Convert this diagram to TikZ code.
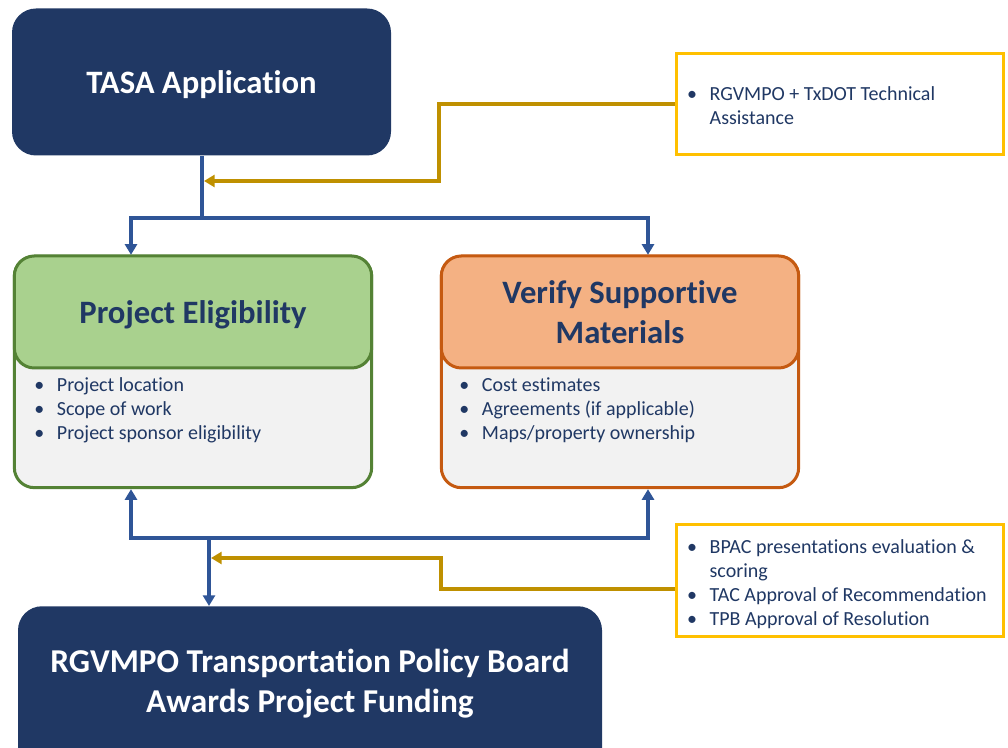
\documentclass[tikz,border=0pt]{standalone}
\usepackage{fontspec}
\setmainfont{Carlito}[Ligatures=NoCommon]
\usetikzlibrary{arrows.meta,calc}
\definecolor{navy}{HTML}{203864}
\definecolor{flowblue}{HTML}{2F5597}
\definecolor{gold}{HTML}{BF9000}
\definecolor{yel}{HTML}{FFC000}
\definecolor{grnfill}{HTML}{A9D18E}
\definecolor{grnline}{HTML}{548235}
\definecolor{orfill}{HTML}{F4B183}
\definecolor{orline}{HTML}{C55A11}
\definecolor{bodyfill}{HTML}{F2F2F2}
\newcommand\bul{\makebox[17pt][l]{\textbullet}}
\newcommand\notelist[1]{\raisebox{-2.6pt}[\height][\depth]{\makebox[229.5pt][l]{\begin{tabular}{@{}l@{}}#1\end{tabular}}}}
\tikzset{
  navybox/.style={fill=navy, draw=none, rounded corners=18pt, text=white,
    font=\fontsize{24.5}{29}\selectfont\bfseries, align=center, inner sep=0pt, text depth=0pt},
  bodybox/.style={fill=bodyfill, line width=2.25pt, rounded corners=15pt,
    minimum width=268pt, minimum height=173.5pt, inner sep=0pt},
  headbox/.style={line width=2.25pt, rounded corners=15pt, minimum width=268pt,
    minimum height=84pt, inner sep=0pt, text=navy, text depth=0pt,
    font=\fontsize{24.5}{30}\selectfont\bfseries, align=center},
  listtext/.style={text=navy, font=\fontsize{15}{18}\selectfont, align=left,
    inner sep=0pt, anchor=north west},
  notebox/.style={draw=yel, fill=white, line width=2.25pt, minimum width=245.5pt,
    inner xsep=0pt, inner ysep=0pt, text=navy,
    font=\fontsize{15}{18}\selectfont},
  flow/.style={draw=flowblue, line width=3pt, -{Triangle[width=9pt,length=8pt]}},
  flowplain/.style={draw=flowblue, line width=3pt},
  help/.style={draw=gold, line width=3pt, -{Triangle[width=9pt,length=8pt]}},
}
\begin{document}
\begin{tikzpicture}[x=0.75pt,y=-0.75pt]
\useasboundingbox (0,0) rectangle (1008,748);
\clip (0,0) rectangle (1008,748);

% top box
\node[navybox, minimum width=284.25pt, minimum height=110.25pt] (tasa) at (201.5,82) {TASA Application};

% project eligibility
\node[bodybox, draw=grnline] (pe) at (193,372) {};
\node[headbox, draw=grnline, fill=grnfill] (peh) at (193,312) {Project Eligibility};
\node[listtext] (pel) at (34,377) {\bul Project location\\\bul Scope of work\\\bul Project sponsor eligibility};

% verify
\node[bodybox, draw=orline] (vs) at (620,372) {};
\node[headbox, draw=orline, fill=orfill] (vsh) at (620,312) {Verify Supportive\\Materials};
\node[listtext] (vsl) at (459,377) {\bul Cost estimates\\\bul Agreements (if applicable)\\\bul Maps/property ownership};

% bottom box
\node[navybox, minimum width=438pt, minimum height=150pt, anchor=north] (board) at (310,606) {};
\node[text=white, font=\fontsize{25}{30}\selectfont\bfseries, align=center, inner sep=0pt, text depth=0pt] (boardtxt) at (310,681) {RGVMPO Transportation Policy Board\\Awards Project Funding};

% note boxes
\node[notebox, minimum height=75.75pt] (ta) at (840,104.5) {\notelist{\bul RGVMPO + TxDOT Technical\\\hspace*{17pt}Assistance}};
\node[notebox, minimum height=84pt] (rev) at (840,581) {\notelist{\bul BPAC presentations evaluation \&\\\hspace*{17pt}scoring\\\bul TAC Approval of Recommendation\\\bul TPB Approval of Resolution}};

% top connectors
\coordinate (j1) at (202,218);
\draw[flowplain] (tasa.south -| j1) -- (j1);
\draw[flow] (j1) -| ($(pe.north)+(-62,0)$);
\draw[flow] (j1) -| ($(vs.north)+(28,0)$);
\coordinate (h1) at (204,181);
\draw[help] (ta.west) -- (439,104.5) |- (h1);

% bottom connectors
\coordinate (j2) at (209,538);
\draw[flow] (j2) -| ($(pe.south)+(-62,0)$);
\draw[flow] (j2) -| ($(vs.south)+(28,0)$);
\draw[flow] (j2) -- (board.north -| j2);
\coordinate (h2) at (211,558);
\draw[help] ($(rev.west)+(0,8)$) -- (441,589) |- (h2);
\end{tikzpicture}
\end{document}
